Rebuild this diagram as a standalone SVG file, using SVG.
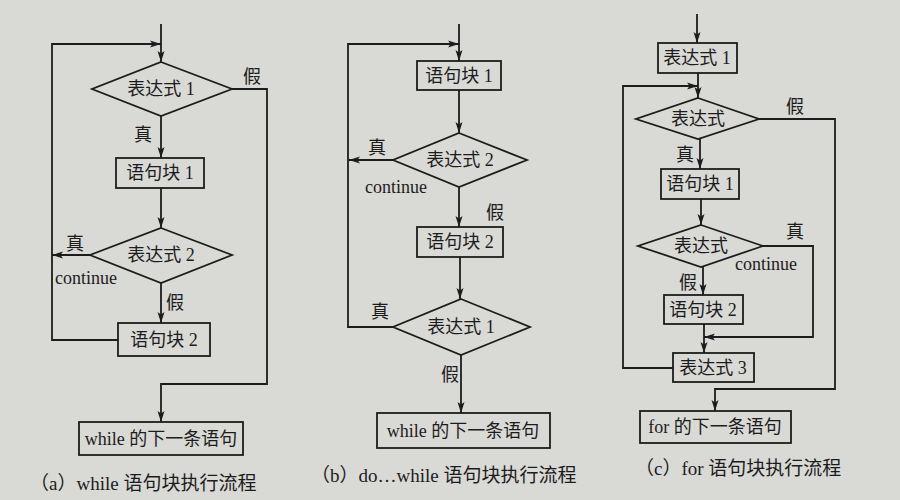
<svg xmlns="http://www.w3.org/2000/svg" width="900" height="500" viewBox="0 0 900 500">
<defs>
<marker id="ah" markerUnits="userSpaceOnUse" markerWidth="12" markerHeight="8" refX="11" refY="4" orient="auto">
<path d="M0,0.5 L11,4 L0,7.5 L2.5,4 Z" fill="#1c1c1c"/>
</marker>
<style>
.bg{fill:#d9d9d6}
.shape{fill:none;stroke:#1c1c1c;stroke-width:1.8}
.conn{fill:none;stroke:#1c1c1c;stroke-width:1.8}
.arr{marker-end:url(#ah)}
text{font-family:"Liberation Serif","Noto Sans CJK SC",serif;fill:#1c1c1c}
.t{font-size:18px;text-anchor:middle}
.lbl{font-size:18px;text-anchor:middle}
.cont{font-size:18px}
.cap{font-size:19px}
</style>
</defs>
<rect class="bg" x="0" y="0" width="900" height="500"/>

<g id="connectors">
<!-- (a) while -->
<line class="conn arr" x1="161" y1="24" x2="161" y2="62"/>
<line class="conn arr" x1="161" y1="116" x2="161" y2="158"/>
<line class="conn arr" x1="161" y1="188" x2="161" y2="228"/>
<line class="conn arr" x1="90" y1="255" x2="52" y2="255"/>
<line class="conn arr" x1="161" y1="283" x2="161" y2="323"/>
<polyline class="conn arr" points="118,340 52,340 52,44 161,44"/>
<polyline class="conn arr" points="232,89 267,89 267,384 161,384 161,422"/>
<!-- (b) do...while -->
<line class="conn arr" x1="459" y1="24" x2="459" y2="61"/>
<line class="conn arr" x1="459" y1="90" x2="459" y2="133"/>
<line class="conn arr" x1="393" y1="160" x2="349" y2="160"/>
<line class="conn arr" x1="459" y1="187" x2="459" y2="227"/>
<line class="conn arr" x1="460" y1="257" x2="460" y2="299"/>
<polyline class="conn arr" points="393,327 348,327 348,44 459,44"/>
<line class="conn arr" x1="461" y1="355" x2="461" y2="413"/>
<!-- (c) for -->
<line class="conn arr" x1="697" y1="14" x2="697" y2="43"/>
<line class="conn arr" x1="698" y1="73" x2="698" y2="98"/>
<polyline class="conn arr" points="673,368 623,368 623,86 698,86"/>
<polyline class="conn arr" points="759,119 835,119 835,389 715,389 715,411"/>
<line class="conn arr" x1="700" y1="139" x2="700" y2="169"/>
<line class="conn arr" x1="701" y1="199" x2="701" y2="225"/>
<polyline class="conn arr" points="763,246 813,246 813,337 704,337"/>
<line class="conn arr" x1="703" y1="267" x2="703" y2="295"/>
<line class="conn arr" x1="704" y1="324" x2="704" y2="353"/>
</g>

<!-- (a) nodes -->
<g id="a-cond1">
<polygon class="shape" points="161,62 232,89 161,116 92,89"/>
<text class="t" x="161" y="95">表达式 1</text>
</g>
<g id="a-block1">
<rect class="shape" x="116" y="158" width="88" height="30"/>
<text class="t" x="160" y="179">语句块 1</text>
</g>
<g id="a-cond2">
<polygon class="shape" points="161,228 232,255 161,283 90,255"/>
<text class="t" x="161" y="261">表达式 2</text>
</g>
<g id="a-block2">
<rect class="shape" x="118" y="323" width="92" height="33"/>
<text class="t" x="164" y="346">语句块 2</text>
</g>
<g id="a-next">
<rect class="shape" x="79" y="422" width="164" height="33"/>
<text class="t" x="161" y="445">while 的下一条语句</text>
</g>
<g id="a-labels">
<text class="lbl" x="252" y="83">假</text>
<text class="lbl" x="143" y="141">真</text>
<text class="lbl" x="75" y="250">真</text>
<text class="cont" x="55" y="284">continue</text>
<text class="lbl" x="175" y="309">假</text>
<text class="cap" x="30" y="490">（a）while 语句块执行流程</text>
</g>

<!-- (b) nodes -->
<g id="b-block1">
<rect class="shape" x="417" y="61" width="84" height="29"/>
<text class="t" x="459" y="82">语句块 1</text>
</g>
<g id="b-cond2">
<polygon class="shape" points="459,133 527,160 459,187 393,160"/>
<text class="t" x="460" y="166">表达式 2</text>
</g>
<g id="b-block2">
<rect class="shape" x="417" y="227" width="86" height="30"/>
<text class="t" x="460" y="248">语句块 2</text>
</g>
<g id="b-cond1">
<polygon class="shape" points="461,299 530,327 461,355 393,327"/>
<text class="t" x="461" y="333">表达式 1</text>
</g>
<g id="b-next">
<rect class="shape" x="377" y="413" width="173" height="35"/>
<text class="t" x="463" y="437">while 的下一条语句</text>
</g>
<g id="b-labels">
<text class="lbl" x="377" y="154">真</text>
<text class="cont" x="365" y="193">continue</text>
<text class="lbl" x="495" y="219">假</text>
<text class="lbl" x="380" y="318">真</text>
<text class="lbl" x="450" y="381">假</text>
<text class="cap" x="311" y="482">（b）do…while 语句块执行流程</text>
</g>

<!-- (c) nodes -->
<g id="c-init">
<rect class="shape" x="658" y="43" width="79" height="30"/>
<text class="t" x="697" y="64">表达式 1</text>
</g>
<g id="c-cond">
<polygon class="shape" points="698,98 759,119 698,139 636,119"/>
<text class="t" x="698" y="125">表达式</text>
</g>
<g id="c-block1">
<rect class="shape" x="661" y="169" width="78" height="30"/>
<text class="t" x="700" y="190">语句块 1</text>
</g>
<g id="c-cond2">
<polygon class="shape" points="701,225 763,246 701,267 638,246"/>
<text class="t" x="701" y="252">表达式</text>
</g>
<g id="c-block2">
<rect class="shape" x="664" y="295" width="79" height="29"/>
<text class="t" x="703" y="316">语句块 2</text>
</g>
<g id="c-incr">
<rect class="shape" x="673" y="353" width="81" height="29"/>
<text class="t" x="713" y="374">表达式 3</text>
</g>
<g id="c-next">
<rect class="shape" x="640" y="411" width="151" height="32"/>
<text class="t" x="715" y="433">for 的下一条语句</text>
</g>
<g id="c-labels">
<text class="lbl" x="795" y="113">假</text>
<text class="lbl" x="685" y="161">真</text>
<text class="lbl" x="795" y="238">真</text>
<text class="cont" x="735" y="270">continue</text>
<text class="lbl" x="688" y="289">假</text>
<text class="cap" x="635" y="475">（c）for 语句块执行流程</text>
</g>
</svg>
